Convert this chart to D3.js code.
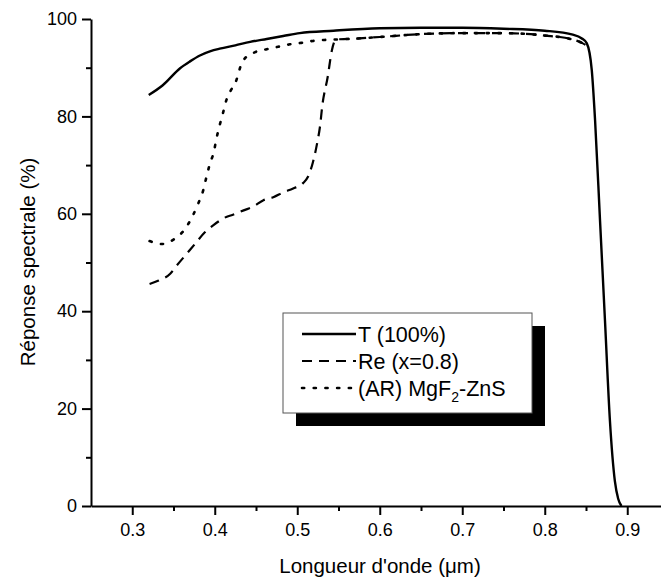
<!DOCTYPE html>
<html>
<head>
<meta charset="utf-8">
<script src="https://cdn.jsdelivr.net/npm/d3@7"></script>
<style>
  body { margin: 0; background: #fff; }
  svg { display: block; font-family: Arial, "Liberation Sans", sans-serif; }
</style>
</head>
<body>
<svg id="chart" width="661" height="578"></svg>
<script>
// wavelengths (um) and responses (%)
const wlT = [0.32, 0.337, 0.358, 0.37, 0.382, 0.395, 0.406, 0.425, 0.443, 0.463, 0.483, 0.503, 0.544, 0.6, 0.65, 0.7, 0.75, 0.8, 0.834, 0.845, 0.851, 0.857, 0.861, 0.867, 0.873, 0.879, 0.885, 0.889, 0.893];
const T   = [84.4, 86.4, 89.9, 91.3, 92.5, 93.4, 93.9, 94.6, 95.3, 95.9, 96.5, 97.1, 97.6, 98.1, 98.2, 98.2, 98.0, 97.6, 96.8, 96.0, 95.0, 89.5, 79.2, 58.6, 38.1, 17.5, 5.1, 1.5, 0];

const wlRe = [0.321, 0.332, 0.346, 0.354, 0.366, 0.376, 0.388, 0.398, 0.412, 0.422, 0.435, 0.447, 0.459, 0.471, 0.483, 0.495, 0.507, 0.513, 0.519, 0.524, 0.528, 0.530, 0.537, 0.542, 0.547, 0.562, 0.6, 0.65, 0.7, 0.75, 0.8, 0.831, 0.845, 0.851];
const Re   = [45.6, 46.3, 47.7, 49.4, 51.8, 53.8, 56.2, 57.6, 59.2, 59.8, 60.7, 61.5, 62.8, 63.4, 64.4, 65.2, 66.3, 67.6, 70.6, 74.4, 78.5, 81.7, 88.2, 93.6, 95.8, 95.9, 96.3, 96.9, 97.1, 97.1, 96.6, 95.9, 95.1, 94.5];

const wlAR = [0.321, 0.336, 0.350, 0.364, 0.373, 0.380, 0.386, 0.390, 0.394, 0.399, 0.402, 0.406, 0.410, 0.414, 0.419, 0.425, 0.434, 0.449, 0.463, 0.477, 0.491, 0.505, 0.519, 0.533, 0.548, 0.562, 0.6, 0.65, 0.7, 0.75, 0.8, 0.831, 0.845, 0.851];
const AR   = [54.4, 53.8, 54.7, 56.9, 59.5, 62.1, 64.8, 67.6, 70.2, 72.8, 75.4, 78.2, 80.7, 83.3, 85.2, 86.9, 91.4, 93.2, 93.8, 94.3, 94.8, 95.1, 95.5, 95.7, 95.8, 95.9, 96.3, 96.9, 97.1, 97.1, 96.6, 95.9, 95.1, 94.5];

const xTicks = [0.3, 0.4, 0.5, 0.6, 0.7, 0.8, 0.9];
const xMinor = [0.35, 0.45, 0.55, 0.65, 0.75, 0.85, 0.95];
const yTicks = [0, 20, 40, 60, 80, 100];
const yMinor = [10, 30, 50, 70, 90];

const seriesNames = ['T (100%)', 'Re (x=0.8)', '(AR) MgF2-ZnS'];

const svg = d3.select('#chart');

const xScale = d3.scaleLinear().domain([0.25, 0.95]).range([91, 668.5]);
const yScale = d3.scaleLinear().domain([0, 100]).range([506, 19]);

const toPts = (xs, ys) => xs.map((x, i) => ({ x, y: ys[i] }));
const line = d3.line()
  .x(d => xScale(d.x))
  .y(d => yScale(d.y))
  .curve(d3.curveMonotoneX);

const series = [
  { name: seriesNames[0], pts: toPts(wlT, T), dash: null, width: 2.4 },
  { name: seriesNames[1], pts: toPts(wlRe, Re), dash: '10,7', width: 2.2 },
  { name: seriesNames[2], pts: toPts(wlAR, AR), dash: '2.2,9.5', width: 2.6 }
];

// curves (dotted + dashed first, solid on top)
svg.append('g')
  .selectAll('path')
  .data(series.slice().reverse())
  .join('path')
    .attr('d', d => line(d.pts))
    .attr('fill', 'none')
    .attr('stroke', '#000')
    .attr('stroke-width', d => d.width)
    .attr('stroke-dasharray', d => d.dash)
    .attr('stroke-linecap', d => d.dash && d.dash.startsWith('2.2') ? 'round' : 'butt');

// axes
const yAxis = d3.axisLeft(yScale)
  .tickValues(yTicks)
  .tickSize(9)
  .tickSizeOuter(0)
  .tickPadding(5)
  .tickFormat(d3.format('d'));

const yAxisG = svg.append('g')
  .attr('transform', `translate(${xScale(0.25)},0)`)
  .call(yAxis);

svg.append('g')
  .attr('transform', `translate(${xScale(0.25)},0)`)
  .call(d3.axisLeft(yScale).tickValues(yMinor).tickSize(5).tickFormat(''))
  .select('.domain').remove();

const xAxis = d3.axisBottom(xScale)
  .tickValues(xTicks)
  .tickSize(9)
  .tickSizeOuter(0)
  .tickPadding(8)
  .tickFormat(d3.format('.1f'));

const xAxisG = svg.append('g')
  .attr('transform', `translate(0,${yScale(0)})`)
  .call(xAxis);

svg.append('g')
  .attr('transform', `translate(0,${yScale(0)})`)
  .call(d3.axisBottom(xScale).tickValues(xMinor).tickSize(5).tickFormat(''))
  .select('.domain').remove();

svg.selectAll('.domain, .tick line')
  .attr('stroke', '#000')
  .attr('stroke-width', 2);

[yAxisG, xAxisG].forEach(g => g.selectAll('text')
  .attr('font-size', 18)
  .attr('font-family', 'Arial, "Liberation Sans", sans-serif')
  .attr('fill', '#000'));

// axis titles
svg.append('text')
  .attr('x', 380)
  .attr('y', 573)
  .attr('text-anchor', 'middle')
  .attr('font-size', 20.5)
  .text('Longueur d\'onde (\u03bcm)');

svg.append('text')
  .attr('transform', 'translate(35,262) rotate(-90)')
  .attr('text-anchor', 'middle')
  .attr('font-size', 20.5)
  .text('Réponse spectrale (%)');

// legend
const lg = { x: 283, y: 313, w: 249, h: 100, off: 13 };
const legend = svg.append('g');

legend.append('rect')
  .attr('x', lg.x + lg.off)
  .attr('y', lg.y + lg.off)
  .attr('width', lg.w)
  .attr('height', lg.h)
  .attr('fill', '#000');

legend.append('rect')
  .attr('x', lg.x)
  .attr('y', lg.y)
  .attr('width', lg.w)
  .attr('height', lg.h)
  .attr('fill', '#fff')
  .attr('stroke', '#555')
  .attr('stroke-width', 1);

const rows = legend.selectAll('g.row')
  .data(series)
  .join('g')
    .attr('class', 'row')
    .attr('transform', (d, i) => `translate(0,${334 + i * 27})`);

rows.append('line')
  .attr('x1', 302)
  .attr('x2', 356)
  .attr('stroke', '#000')
  .attr('stroke-width', d => d.width)
  .attr('stroke-dasharray', d => d.dash)
  .attr('stroke-linecap', d => d.dash && d.dash.startsWith('2.2') ? 'round' : 'butt');

rows.append('text')
  .attr('x', 358)
  .attr('y', 7.5)
  .attr('font-size', 21.5)
  .each(function(d, i) {
    const t = d3.select(this);
    if (i < 2) { t.text(d.name); return; }
    t.append('tspan').text('(AR) MgF');
    t.append('tspan').attr('font-size', 14).attr('dy', 6).text('2');
    t.append('tspan').attr('dy', -6).text('-ZnS');
  });
</script>
</body>
</html>
